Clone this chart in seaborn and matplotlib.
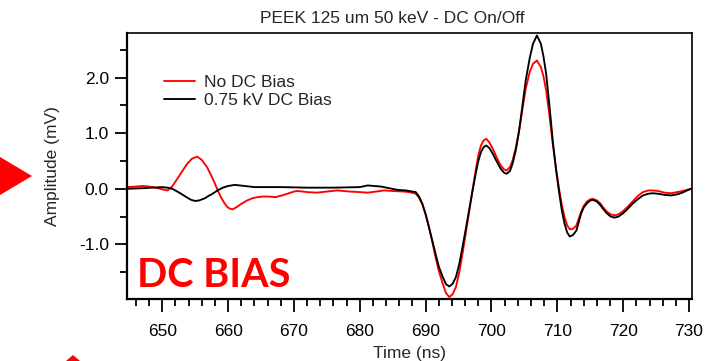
import numpy as np
import pandas as pd
import matplotlib
matplotlib.use("Agg")
import matplotlib.pyplot as plt
from matplotlib.patches import Polygon
import seaborn as sns

# ---- data ----
t_red = [644.7, 646.0, 647.0, 648.0, 649.0, 650.0, 650.8, 651.5, 652.3, 653.0,
         653.8, 654.5, 655.3, 656.0, 656.8, 657.4, 657.9, 658.4, 658.9, 659.4,
         659.9, 660.3, 660.7, 661.3, 661.9, 662.9, 663.7, 664.5, 665.3, 666.0,
         667.2, 668.2, 669.0, 670.0, 670.5, 671.3, 672.0, 673.5, 675.0, 676.6,
         678.5, 680.0, 681.2, 682.5, 683.7, 685.0, 686.7, 687.5, 688.2,
         688.5, 689.0, 689.5, 690.0, 690.5, 691.0, 691.5, 692.0, 692.6, 693.1,
         693.6, 694.1, 694.6, 695.1, 695.6, 696.1, 696.6, 697.1, 697.6, 698.0,
         698.4, 698.8, 699.2, 699.7, 700.2, 700.8, 701.4, 701.9, 702.3, 702.8,
         703.2, 703.7, 704.2, 704.7, 705.2, 705.8, 706.3, 706.9, 707.5, 707.9,
         708.3, 708.8, 709.3, 709.8, 710.3, 710.7, 711.1, 711.5, 711.9, 712.4,
         712.9, 713.3, 713.6, 714.0, 714.5, 715.0, 715.4, 716.0, 716.5, 717.0,
         717.5, 718.1, 718.7, 719.3, 720.0, 720.7, 721.5, 722.2, 723.0, 723.8,
         724.5, 725.3, 726.3, 727.3, 728.2, 729.0, 729.7, 730.3]
v_red = [0.03, 0.04, 0.05, 0.04, 0.02, -0.01, -0.03, 0.04, 0.18, 0.31,
         0.45, 0.54, 0.58, 0.52, 0.39, 0.25, 0.12, -0.02, -0.15, -0.25,
         -0.33, -0.36, -0.37, -0.33, -0.28, -0.21, -0.17, -0.15, -0.14, -0.14,
         -0.15, -0.12, -0.09, -0.05, -0.04, -0.05, -0.06, -0.07, -0.05, -0.03,
         -0.05, -0.06, -0.07, -0.05, -0.03, -0.04, -0.05, -0.06, -0.08,
         -0.09, -0.16, -0.28, -0.46, -0.69, -0.95, -1.23, -1.48, -1.71, -1.88,
         -1.95, -1.90, -1.77, -1.51, -1.17, -0.80, -0.42, -0.04, 0.33, 0.60,
         0.78, 0.87, 0.90, 0.83, 0.72, 0.56, 0.42, 0.35, 0.33, 0.39,
         0.51, 0.74, 1.05, 1.43, 1.80, 2.10, 2.25, 2.31, 2.19, 2.02,
         1.77, 1.32, 0.81, 0.36, -0.03, -0.30, -0.51, -0.66, -0.73, -0.72,
         -0.66, -0.52, -0.42, -0.31, -0.23, -0.19, -0.18, -0.21, -0.26, -0.34,
         -0.41, -0.46, -0.48, -0.46, -0.40, -0.32, -0.22, -0.13, -0.06, -0.03,
         -0.03, -0.04, -0.07, -0.08, -0.06, -0.04, -0.02, 0.00]

t_blk = [644.7, 647.0, 648.5, 650.0, 650.8, 651.5, 652.3, 653.0, 653.8, 654.4,
         655.0, 655.6, 656.5, 657.0, 657.5, 658.4, 659.2, 660.0, 661.0, 661.8,
         662.5, 664.0, 668.0, 672.0, 676.0, 680.0, 681.2, 682.2, 683.2, 684.5,
         685.7, 687.0, 688.0,
         688.5, 689.0, 689.5, 690.0, 690.5, 691.0, 691.5, 692.0, 692.6, 693.1,
         693.6, 694.1, 694.6, 695.1, 695.6, 696.1, 696.6, 697.1, 697.6, 698.0,
         698.4, 698.8, 699.2, 699.7, 700.2, 700.8, 701.4, 701.9, 702.3, 702.8,
         703.2, 703.7, 704.2, 704.7, 705.2, 705.8, 706.3, 706.9, 707.5, 707.9,
         708.3, 708.8, 709.3, 709.8, 710.3, 710.7, 711.1, 711.5, 711.9, 712.4,
         712.9, 713.3, 713.6, 714.0, 714.5, 715.0, 715.4, 716.0, 716.5, 717.0,
         717.5, 718.1, 718.7, 719.3, 720.0, 720.7, 721.5, 722.2, 723.0, 723.8,
         724.5, 725.3, 726.3, 727.3, 728.2, 729.0, 729.7, 730.3]
v_blk = [0.00, 0.01, 0.02, 0.03, 0.02, 0.00, -0.05, -0.10, -0.16, -0.20,
         -0.22, -0.21, -0.17, -0.13, -0.10, -0.03, 0.02, 0.05, 0.07, 0.06,
         0.05, 0.03, 0.03, 0.02, 0.02, 0.03, 0.06, 0.05, 0.04, 0.01,
         -0.02, -0.03, -0.05,
         -0.06, -0.14, -0.27, -0.46, -0.69, -0.93, -1.17, -1.40, -1.59, -1.72,
         -1.76, -1.71, -1.59, -1.36, -1.05, -0.72, -0.39, -0.05, 0.27, 0.50,
         0.66, 0.75, 0.78, 0.73, 0.63, 0.49, 0.36, 0.29, 0.27, 0.32,
         0.45, 0.70, 1.05, 1.50, 1.95, 2.35, 2.61, 2.76, 2.61, 2.38,
         2.07, 1.50, 0.87, 0.35, -0.09, -0.40, -0.63, -0.79, -0.86, -0.83,
         -0.75, -0.58, -0.45, -0.34, -0.26, -0.21, -0.20, -0.23, -0.29, -0.37,
         -0.44, -0.50, -0.52, -0.50, -0.44, -0.36, -0.26, -0.19, -0.12, -0.09,
         -0.08, -0.09, -0.11, -0.12, -0.10, -0.07, -0.03, 0.00]

series_names = ["No DC Bias", "0.75 kV DC Bias"]
series_colors = ["#FF0000", "#000000"]
title_text = "PEEK 125 um 50 keV - DC On/Off"
x_label = "Time (ns)"
y_label = "Amplitude (mV)"
x_ticks = [650, 660, 670, 680, 690, 700, 710, 720, 730]
y_ticks = [-1.0, 0.0, 1.0, 2.0]
y_tick_labels = ["-1.0", "0.0", "1.0", "2.0"]

df = pd.concat([
    pd.DataFrame({"t": t_red, "v": v_red, "s": series_names[0]}),
    pd.DataFrame({"t": t_blk, "v": v_blk, "s": series_names[1]}),
])

sns.set_theme(style="ticks")
plt.rcParams["font.family"] = ["Liberation Sans", "DejaVu Sans"]

W, H = 722, 361
fig = plt.figure(figsize=(W / 100, H / 100), dpi=100)
ax = fig.add_axes([127 / W, 1 - 299 / H, (692 - 127) / W, (299 - 33) / H])

sns.lineplot(data=df, x="t", y="v", hue="s", palette=series_colors,
             hue_order=series_names, estimator=None, sort=False,
             linewidth=1.35, ax=ax)
for ln in ax.get_lines():
    ln.set_solid_joinstyle("round")

ax.set_xlim(644.65, 730.45)
ax.set_ylim(-1.985, 2.805)
ax.set_xticks(x_ticks)
ax.set_xticks(np.arange(646, 731, 2), minor=True)
ax.set_yticks(y_ticks)
ax.set_yticklabels(y_tick_labels)
ax.set_yticks([-1.5, -0.5, 0.5, 1.5, 2.5], minor=True)

fs = 12.5
ax.tick_params(axis="both", which="major", direction="out", length=9,
               width=1.3, labelsize=fs, colors="black")
ax.tick_params(axis="both", which="minor", direction="out", length=4.8,
               width=1.3, colors="black")
ax.tick_params(axis="x", which="major", pad=9)
ax.tick_params(axis="y", which="major", pad=4)

for side in ["left", "bottom"]:
    ax.spines[side].set_linewidth(1.6)
for side in ["top", "right"]:
    ax.spines[side].set_linewidth(1.2)
for sp in ax.spines.values():
    sp.set_color("black")

ax.set_xlabel(x_label, fontsize=fs, labelpad=5)
ax.set_ylabel(y_label, fontsize=fs, labelpad=14)
ax.text(0.469, 1.037, title_text, transform=ax.transAxes, ha="center",
        va="baseline", fontsize=fs)

leg = ax.legend(loc="upper left", bbox_to_anchor=(0.0655, 0.843),
                frameon=False, fontsize=fs, handlelength=1.8,
                handletextpad=0.5, labelspacing=0.16, borderpad=0,
                borderaxespad=0)

ax.text(0.018, 0.046, "DC BIAS", transform=ax.transAxes, color="#FF0000",
        fontsize=28.5, fontweight="bold", family=["Lato", "DejaVu Sans"],
        ha="left", va="baseline")

# slide decorations (red arrow tips)
fig.add_artist(Polygon([[0 / W, 1 - 157 / H], [32 / W, 1 - 176 / H], [0 / W, 1 - 195 / H]],
                       closed=True, transform=fig.transFigure, color="#FF0000", lw=0))
fig.add_artist(Polygon([[66 / W, 0.0], [73 / W, 1 - 355 / H], [80 / W, 0.0]],
                       closed=True, transform=fig.transFigure, color="#FF0000", lw=0))

fig.savefig("out.png", dpi=100)
